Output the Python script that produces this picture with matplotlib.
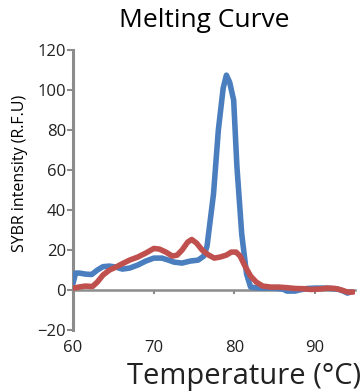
import matplotlib
matplotlib.use("Agg")
import matplotlib.pyplot as plt

plt.rcParams['font.family'] = ['Open Sans', 'DejaVu Sans']

# Blue sample (temperature, fluorescence)
blue_t = [60.0, 60.3, 60.8, 61.5, 62.3, 63.0, 63.7, 64.5, 65.3, 66.1, 67.0, 68.0,
          69.0, 70.0, 71.0, 71.8, 72.5, 73.5, 74.5, 75.5, 76.2, 76.6, 77.0, 77.4,
          78.0, 78.6, 79.0, 79.4, 79.9, 80.3, 80.9, 81.5, 82.0, 83.0, 84.0, 85.0,
          86.0, 86.5, 87.5, 88.0, 89.0, 90.0, 91.0, 92.0, 92.8, 93.5, 94.0, 94.4]
blue_v = [3.5, 8.5, 8.5, 8.0, 7.8, 10.0, 11.7, 12.0, 11.5, 10.5, 11.0, 12.5,
          14.5, 16.0, 16.0, 15.0, 14.0, 13.5, 14.5, 15.0, 17.0, 22.0, 35.0, 48.0,
          80.0, 101.0, 107.5, 104.0, 95.0, 62.0, 28.0, 8.0, 1.5, 1.0, 1.0, 1.0,
          0.5, -0.5, -0.5, 0.0, 0.8, 1.0, 1.0, 0.8, 0.5, -0.5, -1.5, -1.0]

# Red sample
red_t = [60.0, 60.7, 61.5, 62.4, 63.0, 63.7, 64.5, 65.3, 66.0, 67.0, 68.0, 69.0,
         70.0, 70.7, 71.5, 72.3, 72.9, 73.5, 74.2, 74.7, 75.3, 76.0, 76.8, 77.5,
         78.2, 79.0, 79.6, 80.2, 80.7, 81.3, 82.0, 82.7, 83.5, 84.5, 85.5, 86.5,
         87.5, 88.5, 89.5, 90.5, 91.5, 92.5, 93.3, 94.0, 94.7]
red_v = [1.0, 1.5, 2.0, 1.8, 4.0, 7.5, 10.0, 11.5, 13.0, 15.0, 16.5, 18.5,
         20.8, 20.5, 19.0, 17.0, 17.5, 20.0, 24.0, 25.3, 23.5, 20.0, 17.5, 16.0,
         16.5, 17.5, 19.0, 19.0, 17.0, 12.0, 7.0, 4.0, 2.0, 1.5, 1.5, 1.2,
         0.8, 0.7, 0.3, 0.5, 1.0, 0.8, 0.0, -1.0, -1.0]

x_ticks = [60, 70, 80, 90]
y_ticks = [-20, 0, 20, 40, 60, 80, 100, 120]

fig = plt.figure(figsize=(3.62, 3.92), dpi=100)
ax = fig.add_axes([0.202, 0.158, 0.78, 0.714])

ax.plot(blue_t, blue_v, color='#4a7ebf', lw=4, solid_capstyle='round', zorder=3)
ax.plot(red_t, red_v, color='#c0504d', lw=4, solid_capstyle='round', zorder=4)

ax.set_xlim(60, 95)
ax.set_ylim(-20, 120)

# axis look: gray left spine, x axis line through zero
grey = '#8c8c8c'
for s in ['top', 'right']:
    ax.spines[s].set_visible(False)
ax.spines['left'].set_color(grey)
ax.spines['left'].set_linewidth(2.2)
ax.spines['bottom'].set_position(('data', 0))
ax.spines['bottom'].set_color(grey)
ax.spines['bottom'].set_linewidth(1.8)

ax.set_xticks(x_ticks)
ax.set_yticks(y_ticks)
ax.tick_params(axis='y', direction='out', length=4, width=1.5, color=grey,
               labelsize=12, pad=1, labelcolor='#222222')
ax.tick_params(axis='x', direction='out', length=3, width=1.5, color=grey,
               labelsize=12, pad=33, labelcolor='#222222')

ax.set_ylabel('SYBR intensity (R.F.U)', fontsize=11.5)
ax.yaxis.set_label_coords(-0.16, 0.56)
fig.text(0.565, 0.948, 'Melting Curve', fontsize=19, ha='center', va='center')
fig.text(0.998, 0.04, 'Temperature (°C)', fontsize=21, ha='right', va='center',
         color='#222222')

fig.savefig('out.png', dpi=100)
